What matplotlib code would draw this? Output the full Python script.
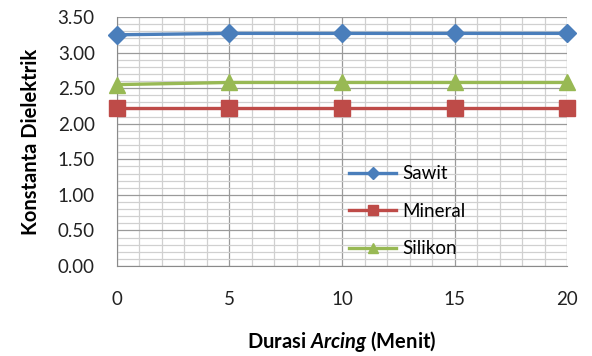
import matplotlib
matplotlib.use("Agg")
import matplotlib.pyplot as plt
from matplotlib.ticker import MultipleLocator

plt.rcParams['font.family'] = ['Lato', 'DejaVu Sans']
plt.rcParams['mathtext.fontset'] = 'custom'
plt.rcParams['mathtext.rm'] = 'Lato:bold'
plt.rcParams['mathtext.bfit'] = 'Lato:italic:bold'
plt.rcParams['mathtext.it'] = 'Lato:italic:bold'

durasi = [0, 5, 10, 15, 20]
sawit = [3.25, 3.27, 3.27, 3.27, 3.27]
mineral = [2.22, 2.22, 2.22, 2.22, 2.22]
silikon = [2.55, 2.58, 2.58, 2.58, 2.58]

fig = plt.figure(figsize=(5.92, 3.56), dpi=100)
ax = fig.add_axes([0.1976, 0.2528, 0.7602, 0.6994])

ax.plot(durasi, sawit, color='#4A7EBB', lw=2.4, marker='D', ms=9,
        label='Sawit', clip_on=False, zorder=5)
ax.plot(durasi, mineral, color='#BE4B48', lw=2.4, marker='s', ms=11,
        label='Mineral', clip_on=False, zorder=5)
ax.plot(durasi, silikon, color='#98B954', lw=2.4, marker='^', ms=11,
        label='Silikon', clip_on=False, zorder=5)

ax.set_xlim(0, 20)
ax.set_ylim(0, 3.5)
ax.xaxis.set_major_locator(MultipleLocator(5))
ax.xaxis.set_minor_locator(MultipleLocator(1))
ax.yaxis.set_major_locator(MultipleLocator(0.5))
ax.yaxis.set_minor_locator(MultipleLocator(0.1))
ax.set_yticklabels([f'{v:.2f}' for v in ax.get_yticks()])

ax.grid(which='major', color='#9a9a9a', lw=0.9)
ax.grid(which='minor', color='#d0d0d0', lw=0.9)
ax.set_axisbelow(True)
for s in ['top', 'right']:
    ax.spines[s].set_visible(False)
for s in ['left', 'bottom']:
    ax.spines[s].set_color('#8a8a8a')
ax.tick_params(which='both', length=0)
ax.tick_params(axis='x', pad=18, labelsize=13.5, colors='#222222')
ax.tick_params(axis='y', pad=16, labelsize=13.5, colors='#222222')

ax.set_ylabel('Konstanta Dielektrik', fontsize=14.5, fontweight='bold', labelpad=12)
ax.set_xlabel(r'Durasi $\mathit{Arcing}$ (Menit)', fontsize=14.5,
              fontweight='bold', labelpad=15)

leg = ax.legend(loc='upper left', bbox_to_anchor=(0.5, 0.435), frameon=False,
                fontsize=13.5, handlelength=2.5, labelspacing=1.1,
                handletextpad=0.3, borderaxespad=0, markerscale=0.7)

fig.savefig('out.png', dpi=100)
